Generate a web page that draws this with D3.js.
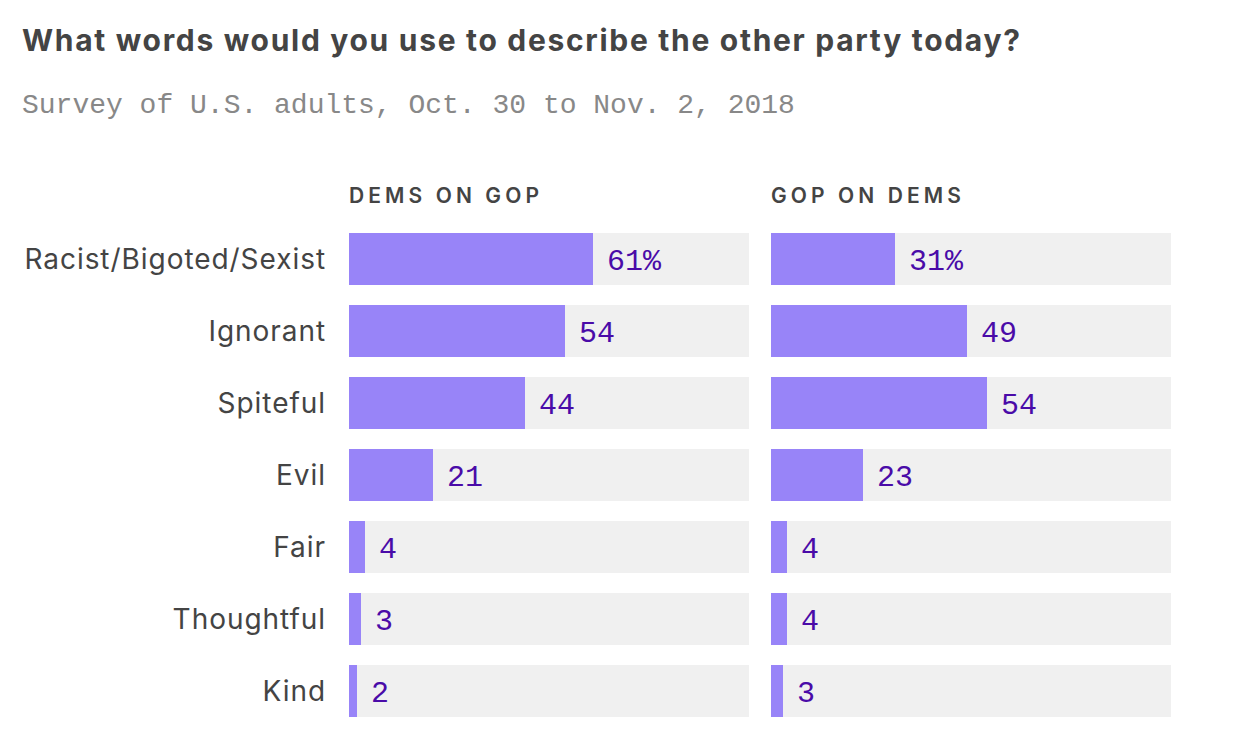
<!DOCTYPE html>
<html>
<head>
<meta charset="utf-8">
<script src="https://cdn.jsdelivr.net/npm/d3@7"></script>
<style>
  body { margin: 0; background: #fff; }
  svg { display: block; }
</style>
</head>
<body>
<svg width="1238" height="742"></svg>
<script>
const categories = ["Racist/Bigoted/Sexist", "Ignorant", "Spiteful", "Evil", "Fair", "Thoughtful", "Kind"];
const demsOnGop = [61, 54, 44, 21, 4, 3, 2];
const gopOnDems = [31, 49, 54, 23, 4, 4, 3];
const panelTitles = ["DEMS ON GOP", "GOP ON DEMS"];

const svg = d3.select("svg");

const barColor = "#9884f8";
const labelColor = "#4a0ba8";
const trackColor = "#f0f0f0";
const textColor = "#444";

// title + subtitle
svg.append("text")
  .attr("x", 22).attr("y", 51)
  .attr("font-family", "Inter, Lato, sans-serif")
  .attr("font-weight", 700)
  .attr("font-size", 30)
  .attr("textLength", 998)
  .attr("lengthAdjust", "spacing")
  .attr("fill", textColor)
  .text("What words would you use to describe the other party today?");

svg.append("text")
  .attr("x", 22).attr("y", 113)
  .attr("font-family", "'Liberation Mono', monospace")
  .attr("font-size", 28)
  .attr("fill", "#888")
  .text("Survey of U.S. adults, Oct. 30 to Nov. 2, 2018");

const y = d3.scaleBand()
  .domain(categories)
  .range([233, 717])
  .paddingInner(20 / 72)
  .paddingOuter(0);

const xLeft = d3.scaleLinear().domain([0, 100]).range([349, 749]);
const xRight = d3.scaleLinear().domain([0, 100]).range([771, 1171]);

// category labels
svg.append("g")
  .selectAll("text")
  .data(categories)
  .join("text")
    .attr("x", 326)
    .attr("y", d => y(d) + y.bandwidth() / 2 + 10)
    .attr("text-anchor", "end")
    .attr("font-family", "Inter, Lato, sans-serif")
    .attr("font-size", 28)
    .attr("letter-spacing", 0.95)
    .attr("fill", textColor)
    .text(d => d);

const panel = (x, values, title) => {
  const g = svg.append("g");

  g.append("text")
    .attr("x", x.range()[0])
    .attr("y", 203)
    .attr("font-family", "Inter, Lato, sans-serif")
    .attr("font-weight", 600)
    .attr("font-size", 21)
    .attr("letter-spacing", 4.1)
    .attr("fill", textColor)
    .text(title);

  const rows = g.selectAll("g.row")
    .data(categories.map((c, i) => ({ c, v: values[i], i })))
    .join("g")
      .attr("class", "row");

  rows.append("rect")
    .attr("x", x(0))
    .attr("y", d => y(d.c))
    .attr("width", x(100) - x(0))
    .attr("height", y.bandwidth())
    .attr("fill", trackColor);

  rows.append("rect")
    .attr("x", x(0))
    .attr("y", d => y(d.c))
    .attr("width", d => x(d.v) - x(0))
    .attr("height", y.bandwidth())
    .attr("fill", barColor);

  rows.append("text")
    .attr("x", d => x(d.v) + 14)
    .attr("y", d => y(d.c) + y.bandwidth() / 2 + 11)
    .attr("font-family", "'Liberation Mono', monospace")
    .attr("font-size", 30)
    .attr("fill", labelColor)
    .text(d => d.i === 0 ? d.v + "%" : d.v);
};

panel(xLeft, demsOnGop, panelTitles[0]);
panel(xRight, gopOnDems, panelTitles[1]);
</script>
</body>
</html>
